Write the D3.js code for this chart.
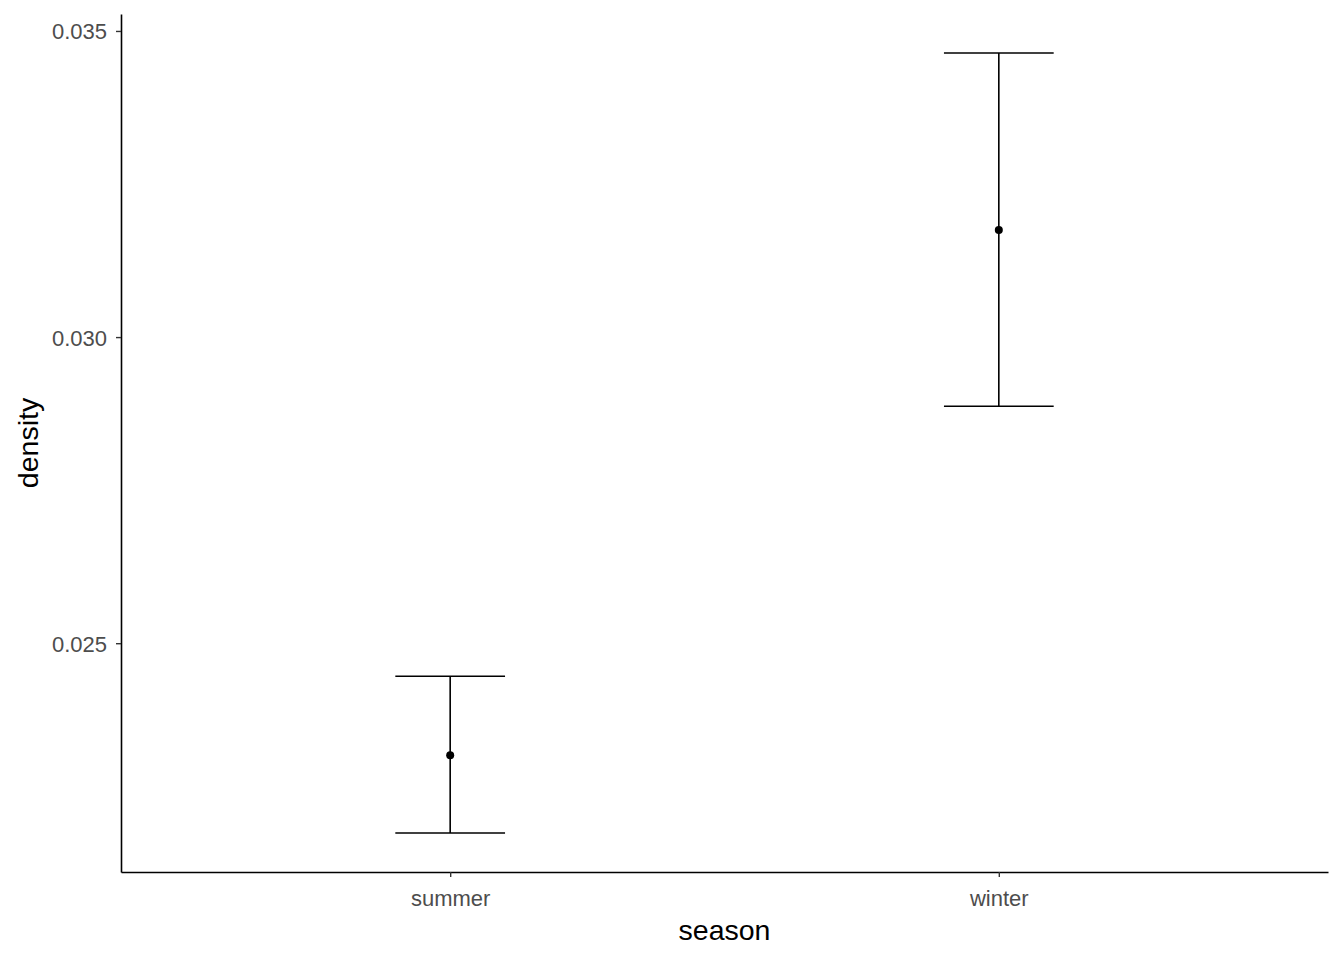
<!DOCTYPE html>
<html>
<head>
<meta charset="utf-8">
<script src="https://cdn.jsdelivr.net/npm/d3@7"></script>
<style>
  body { margin: 0; background: #fff; }
  text { font-family: "Liberation Sans", Arial, sans-serif; }
</style>
</head>
<body>
<div id="chart"></div>
<script>
// data
var seasons = ["summer", "winter"];
var means = [0.02317, 0.03175];
var lower = [0.02190, 0.02887];
var upper = [0.02446, 0.03464];
var yTicks = [0.025, 0.030, 0.035];

var W = 1344, H = 960;
var margin = {top: 14, right: 16, bottom: 88, left: 121},
    width = W - margin.left - margin.right,
    height = H - margin.top - margin.bottom;

var svg = d3.select("#chart")
    .append("svg")
    .attr("width", W)
    .attr("height", H)
    .append("g")
    .attr("transform", "translate(" + margin.left + "," + margin.top + ")");

// ggplot style expansion: 5% continuous, 0.6 units discrete
var lo = d3.min(lower), hi = d3.max(upper), pad = (hi - lo) * 0.05;
var y = d3.scaleLinear()
    .domain([lo - pad, hi + pad])
    .range([height, 0]);

var xPos = d3.scaleLinear()
    .domain([0.4, seasons.length + 0.6])
    .range([0, width]);
var unit = xPos(1) - xPos(0);

var xAxis = svg.append("g")
    .attr("transform", "translate(0," + height + ")")
    .call(d3.axisBottom(xPos).tickValues(seasons.map(function(d, i) { return i + 1; }))
        .tickFormat(function(d) { return seasons[d - 1]; })
        .tickSize(5).tickSizeOuter(0));

var yAxis = svg.append("g")
    .call(d3.axisLeft(y).tickValues(yTicks).tickFormat(d3.format(".3f"))
        .tickSize(5).tickSizeOuter(0));

[xAxis, yAxis].forEach(function(a) {
    a.attr("font-size", null).attr("font-family", null);
    a.select(".domain").attr("stroke", "#000").attr("stroke-width", 1.6);
    a.selectAll(".tick line").attr("stroke", "#333").attr("stroke-width", 1.4);
    a.selectAll(".tick text").attr("fill", "#4d4d4d").style("font-size", "22px");
});
xAxis.selectAll(".tick text").attr("y", 34).attr("dy", 0);
yAxis.selectAll(".tick text").attr("x", -14).attr("dy", "0.36em");

// error bars
var g = svg.append("g");
seasons.forEach(function(s, i) {
    var cx = xPos(i + 1), hw = unit * 0.1;
    g.append("line")
        .attr("x1", cx).attr("x2", cx)
        .attr("y1", y(lower[i])).attr("y2", y(upper[i]))
        .attr("stroke", "#000").attr("stroke-width", 1.6);
    [lower[i], upper[i]].forEach(function(v) {
        g.append("line")
            .attr("x1", cx - hw).attr("x2", cx + hw)
            .attr("y1", y(v)).attr("y2", y(v))
            .attr("stroke", "#000").attr("stroke-width", 1.6);
    });
    g.append("circle")
        .attr("cx", cx).attr("cy", y(means[i]))
        .attr("r", 4).attr("fill", "#000");
});

// axis titles
svg.append("text")
    .attr("x", width / 2).attr("y", height + 68)
    .attr("text-anchor", "middle")
    .style("font-size", "28.5px")
    .text("season");

svg.append("text")
    .attr("transform", "translate(" + (-83) + "," + (height / 2) + ") rotate(-90)")
    .attr("text-anchor", "middle")
    .style("font-size", "28.5px")
    .text("density");
</script>
</body>
</html>
